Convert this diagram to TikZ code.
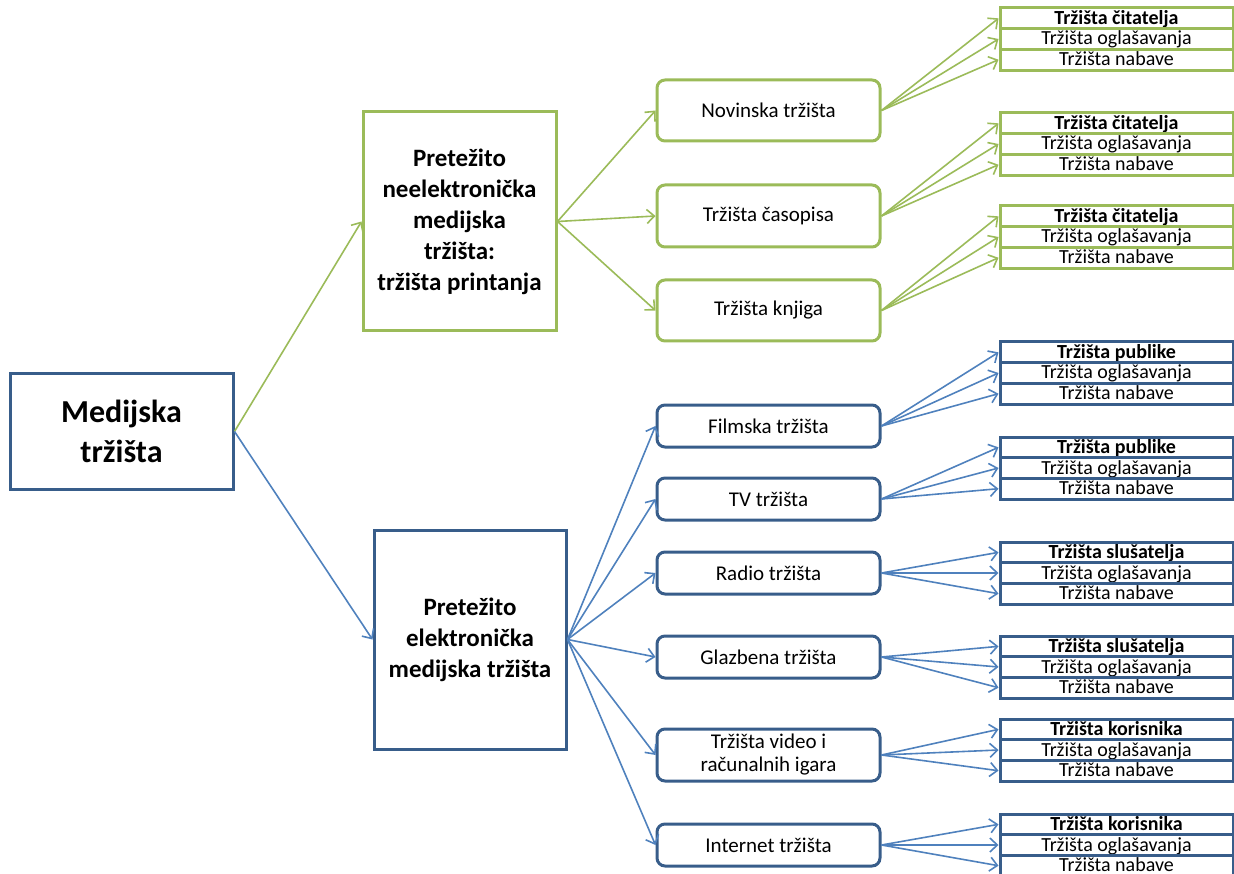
\documentclass[tikz,border=0pt]{standalone}
\usepackage{fontspec}
\setmainfont{Carlito}
\usetikzlibrary{arrows.meta}
\definecolor{gr}{HTML}{9BBB59}
\definecolor{bl}{HTML}{4F81BD}
\definecolor{dbl}{HTML}{385D8A}
\newcommand\grp[6]{%
  \node[row,draw=#3] (#1a) at (1116.5,{#2+10.35}) {\textbf{#4}};
  \node[row,draw=#3] (#1b) at (1116.5,{#2+31.0}) {Tržišta oglašavanja};
  \node[row,draw=#3] (#1c) at (1116.5,{#2+51.7}) {Tržišta nabave};
  \foreach \r in {a,b,c} \draw[con,#6] (#5.east) -- (#1\r.west);
}
\begin{document}
\begin{tikzpicture}[x=1pt,y=-1pt,
  big/.style={draw, line width=3pt, inner sep=0pt, align=center, text=black,
    font=\fontsize{25}{31}\selectfont\bfseries},
  mid/.style={draw, rounded corners=8pt, line width=3pt, inner sep=0pt, align=center,
    text=black, minimum width=223pt, font=\fontsize{21}{23}\selectfont},
  row/.style={draw, line width=3pt, inner sep=0pt, minimum width=233pt, minimum height=20.7pt,
    text=black, font=\fontsize{20}{20}\selectfont, text height=14.5pt, text depth=2.5pt},
  con/.style={line width=1.6pt, -{Straight Barb[length=7.5pt,width=14pt,line width=1.6pt]}}]
\useasboundingbox (0,0) rectangle (1234,874);

\node[big, draw=dbl, minimum width=223pt, minimum height=115pt,
  font=\fontsize{32}{40}\selectfont\bfseries] (root) at (121.5,431.5) {Medijska\\tržišta};
\node[big, draw=gr, minimum width=193pt, minimum height=219pt] (print) at (459.5,221.5)
  {Pretežito\\neelektronička\\medijska\\tržišta:\\tržišta printanja};
\node[big, draw=dbl, minimum width=192pt, minimum height=219pt] (elec) at (470,639.5)
  {Pretežito\\elektronička\\medijska tržišta};

\draw[con,gr] (root.east) -- (print.west);
\draw[con,bl] (root.east) -- (elec.west);

\node[mid, draw=gr, minimum height=61pt] (nov) at (768.5,110.5) {Novinska tržišta};
\node[mid, draw=gr, minimum height=62pt] (cas) at (768.5,216) {Tržišta časopisa};
\node[mid, draw=gr, minimum height=61pt] (knj) at (768.5,310.5) {Tržišta knjiga};

\node[mid, draw=dbl, minimum height=42pt] (film) at (768.5,426) {Filmska tržišta};
\node[mid, draw=dbl, minimum height=42pt] (tv) at (768.5,499) {TV tržišta};
\node[mid, draw=dbl, minimum height=42pt] (rad) at (768.5,573) {Radio tržišta};
\node[mid, draw=dbl, minimum height=42pt] (glz) at (768.5,657) {Glazbena tržišta};
\node[mid, draw=dbl, minimum height=52pt] (vid) at (768.5,755) {Tržišta video i\\računalnih igara};
\node[mid, draw=dbl, minimum height=42pt] (net) at (768.5,845) {Internet tržišta};

\foreach \n in {nov,cas,knj} \draw[con,gr] (print.east) -- (\n.west);
\foreach \n in {film,tv,rad,glz,vid,net} \draw[con,bl] (elec.east) -- (\n.west);

\grp{ga}{8}{gr}{Tržišta čitatelja}{nov}{gr}
\grp{gb}{113}{gr}{Tržišta čitatelja}{cas}{gr}
\grp{gc}{206}{gr}{Tržišta čitatelja}{knj}{gr}
\grp{ba}{342}{dbl}{Tržišta publike}{film}{bl}
\grp{bb}{437}{dbl}{Tržišta publike}{tv}{bl}
\grp{bc}{542}{dbl}{Tržišta slušatelja}{rad}{bl}
\grp{bd}{636}{dbl}{Tržišta slušatelja}{glz}{bl}
\grp{be}{719}{dbl}{Tržišta korisnika}{vid}{bl}
\grp{bf}{814}{dbl}{Tržišta korisnika}{net}{bl}
\end{tikzpicture}
\end{document}
